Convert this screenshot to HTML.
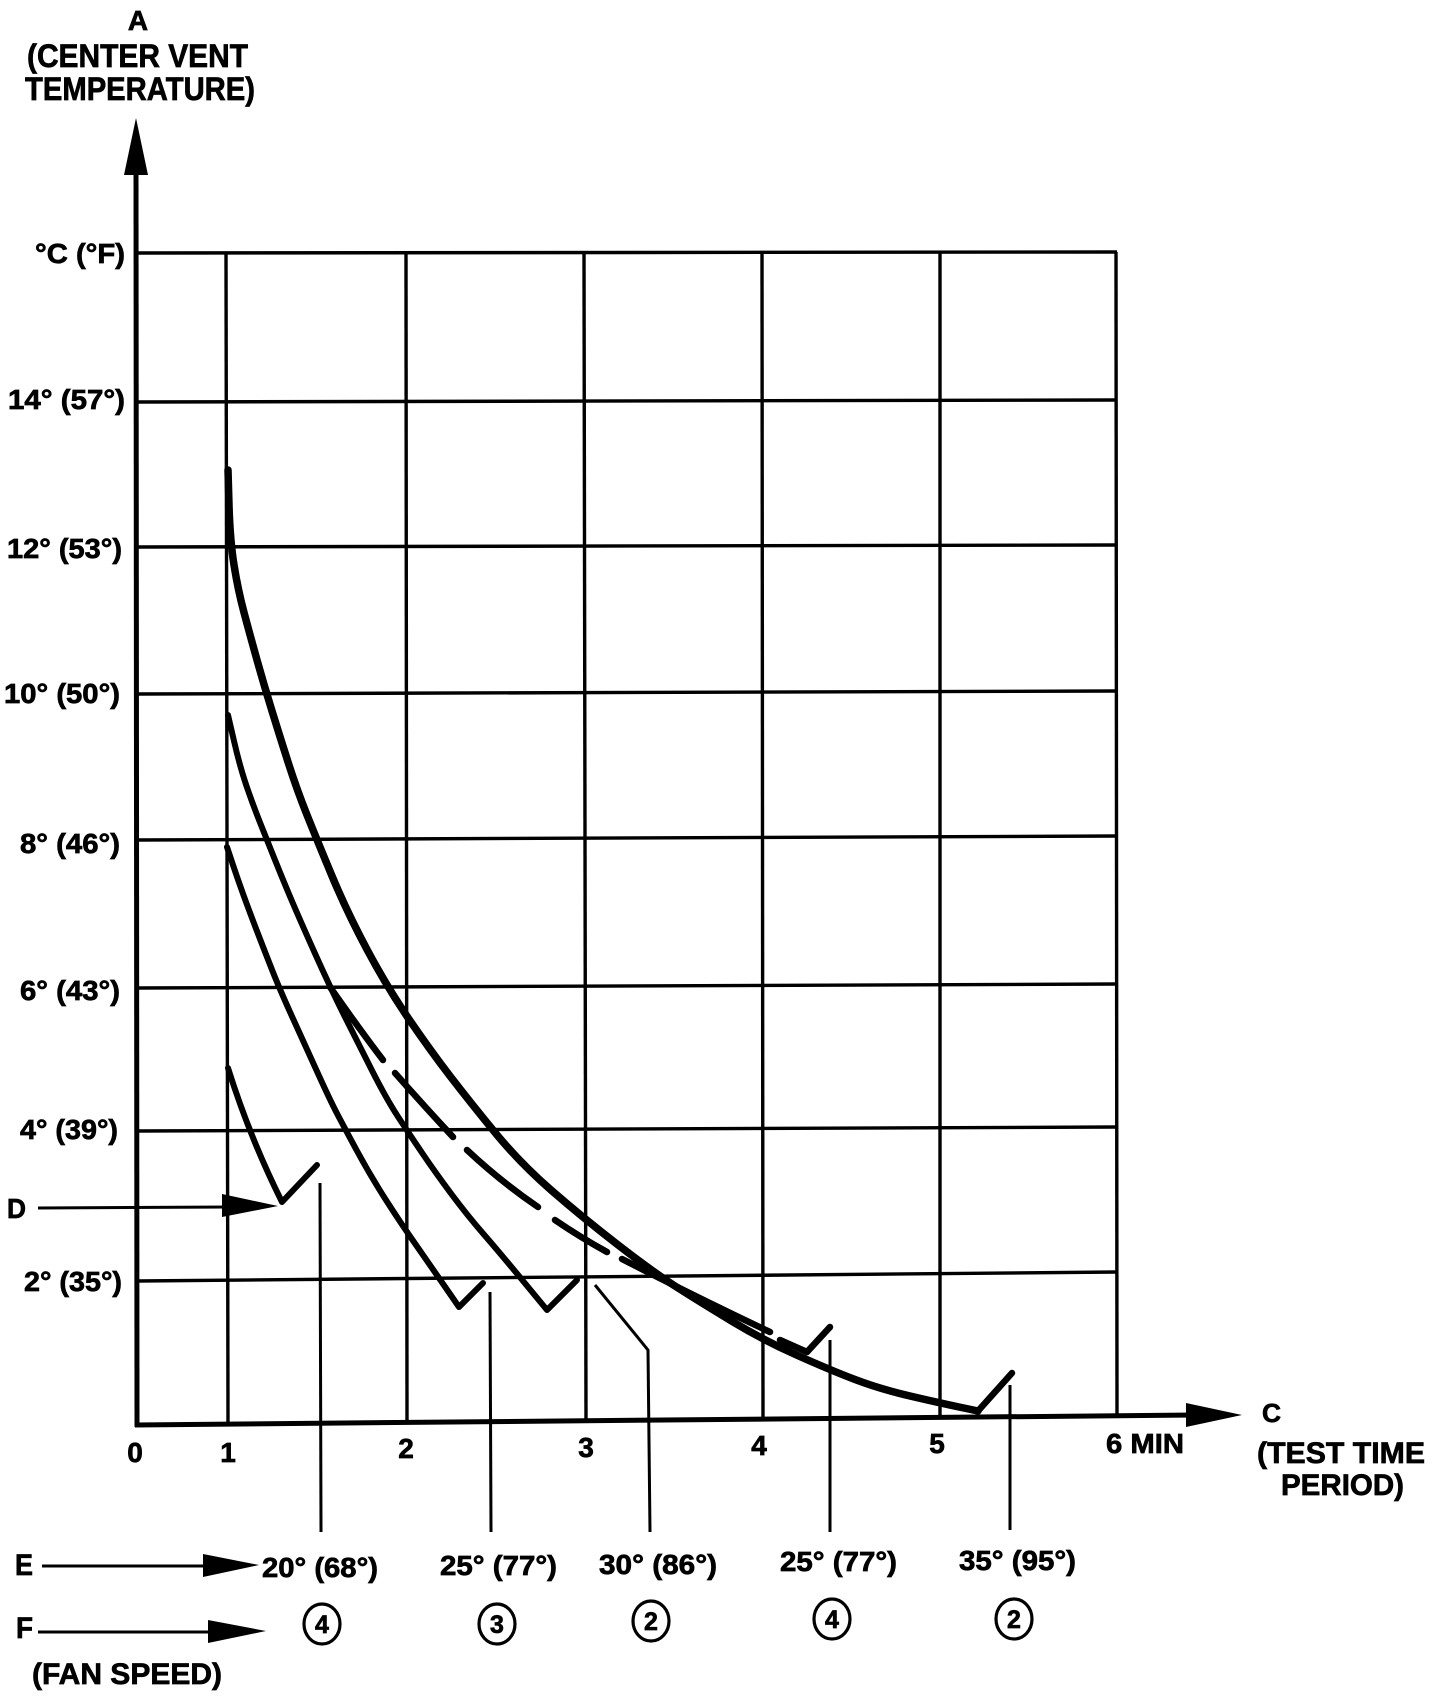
<!DOCTYPE html>
<html>
<head>
<meta charset="utf-8">
<style>
  html,body{margin:0;padding:0;background:#fff;}
  svg{display:block;}
  text{font-family:"Liberation Sans",Arial,sans-serif;font-weight:bold;fill:#000;stroke:#000;stroke-width:0.7;}
</style>
</head>
<body>
<svg width="1440" height="1706" viewBox="0 0 1440 1706" xmlns="http://www.w3.org/2000/svg">
  <rect x="0" y="0" width="1440" height="1706" fill="#fff"/>

  <!-- Title -->
  <text x="138" y="30" font-size="28" text-anchor="middle">A</text>
  <text x="27" y="67" font-size="32" textLength="221" lengthAdjust="spacingAndGlyphs">(CENTER VENT</text>
  <text x="25" y="100" font-size="32" textLength="230" lengthAdjust="spacingAndGlyphs">TEMPERATURE)</text>

  <!-- Grid -->
  <g stroke="#000" stroke-width="3.4" fill="none">
    <line x1="137" y1="253" x2="1117" y2="252"/>
    <line x1="137" y1="402" x2="1117" y2="400"/>
    <line x1="137" y1="547" x2="1117" y2="545"/>
    <line x1="137" y1="694" x2="1117" y2="691"/>
    <line x1="137" y1="840" x2="1117" y2="836"/>
    <line x1="137" y1="988" x2="1117" y2="984"/>
    <line x1="137" y1="1131" x2="1117" y2="1127"/>
    <line x1="137" y1="1281" x2="1117" y2="1272"/>
    <line x1="226" y1="253" x2="228" y2="1425"/>
    <line x1="406" y1="253" x2="407" y2="1424"/>
    <line x1="584" y1="253" x2="586" y2="1422"/>
    <line x1="762" y1="252" x2="763" y2="1420"/>
    <line x1="940" y1="252" x2="940" y2="1418"/>
    <line x1="1116" y1="252" x2="1117" y2="1416"/>
  </g>

  <!-- Axes -->
  <g stroke="#000" stroke-width="5" fill="none">
    <line x1="136" y1="165" x2="137" y2="1427"/>
    <line x1="135" y1="1425" x2="1195" y2="1415"/>
  </g>
  <polygon points="124,175 136,118 148,175" fill="#000"/>
  <polygon points="1186,1403 1242,1415 1186,1427" fill="#000"/>

  <!-- Y labels -->
  <g font-size="28">
    <text x="35" y="263" textLength="90" lengthAdjust="spacingAndGlyphs">°C (°F)</text>
    <text x="8" y="409" textLength="117" lengthAdjust="spacingAndGlyphs">14° (57°)</text>
    <text x="7" y="558" textLength="115" lengthAdjust="spacingAndGlyphs">12° (53°)</text>
    <text x="4" y="703" textLength="116" lengthAdjust="spacingAndGlyphs">10° (50°)</text>
    <text x="20" y="853" textLength="100" lengthAdjust="spacingAndGlyphs">8° (46°)</text>
    <text x="20" y="1000" textLength="100" lengthAdjust="spacingAndGlyphs">6° (43°)</text>
    <text x="20" y="1139" textLength="98" lengthAdjust="spacingAndGlyphs">4° (39°)</text>
    <text x="24" y="1291" textLength="98" lengthAdjust="spacingAndGlyphs">2° (35°)</text>
    <text x="7" y="1218" textLength="19" lengthAdjust="spacingAndGlyphs">D</text>
  </g>

  <!-- X labels -->
  <g font-size="28" text-anchor="middle">
    <text x="135" y="1462">0</text>
    <text x="228" y="1462">1</text>
    <text x="406" y="1458">2</text>
    <text x="586" y="1457">3</text>
    <text x="759" y="1455">4</text>
    <text x="937" y="1453">5</text>
  </g>
  <text x="1106" y="1453" font-size="28" textLength="78" lengthAdjust="spacingAndGlyphs">6 MIN</text>
  <text x="1262" y="1422" font-size="26" textLength="19" lengthAdjust="spacingAndGlyphs">C</text>
  <text x="1257" y="1463" font-size="30" textLength="168" lengthAdjust="spacingAndGlyphs">(TEST TIME</text>
  <text x="1281" y="1495" font-size="30" textLength="123" lengthAdjust="spacingAndGlyphs">PERIOD)</text>

  <!-- D arrow -->
  <line x1="38" y1="1208" x2="230" y2="1207" stroke="#000" stroke-width="3"/>
  <polygon points="222,1194 278,1206 222,1217" fill="#000"/>

  <!-- Curves -->
  <g stroke="#000" fill="none" stroke-linejoin="round" stroke-linecap="round">
    <!-- Curve 1 -->
    <path d="M228,470 L229,505 Q230,540 234,565 Q238,590 244,612.5 Q250,635 257,660 Q264,685 272,711 Q280,737 288.5,763.5 Q297,790 307,815 Q317,840 332,876 Q347,912 367,949.5 Q387,987 408.5,1018.5 Q430,1050 450,1076 Q470,1102 495,1132.5 Q520,1163 551,1190 Q582,1217 617.5,1244.5 Q653,1272 676.5,1287 Q700,1302 731.5,1321 Q763,1340 796.5,1355 Q830,1370 855,1379.5 Q880,1389 910,1396 Q940,1403 959,1407 L978,1411" stroke-width="7.5"/>
    <path d="M978,1411 L1012,1373" stroke-width="6.5"/>
    <!-- Curve 2 -->
    <path d="M228,715 L234,741 Q240,767 246.5,786 Q253,805 260,822.5 Q267,840 275,860 Q283,880 291.5,900 Q300,920 315,953.5 Q330,987 344,1015 Q358,1043 372.5,1071.5 Q387,1100 398.5,1117.5 Q410,1135 422.5,1153.5 Q435,1172 451,1193.5 Q467,1215 483.5,1234 Q500,1253 523.5,1281.5 L547,1310 L577,1280" stroke-width="6"/>
    <!-- Dashed branch -->
    <path d="M330,987 Q360,1030 383,1060" stroke-width="6.5"/>
    <path d="M395,1073 Q425,1107 453,1137" stroke-width="6.5"/>
    <path d="M467,1150 Q500,1181 538,1207" stroke-width="6.5"/>
    <path d="M555,1220 Q580,1237 607,1252" stroke-width="6.5"/>
    <path d="M622,1259 Q700,1299 770,1332" stroke-width="6.5"/>
    <path d="M780,1340 L807,1352 L830,1327" stroke-width="6.5"/>
    <!-- Curve 3 -->
    <path d="M227,847 L232.5,863.5 Q238,880 244,896.5 Q250,913 257.5,932.5 Q265,952 272.5,971 Q280,990 292.5,1017.5 Q305,1045 317.5,1072.5 Q330,1100 336.5,1112.5 Q343,1125 356.5,1150 Q370,1175 385,1198.5 Q400,1222 415,1243.5 Q430,1265 444.5,1286 L459,1307 L483,1283" stroke-width="6"/>
    <!-- Curve 4 -->
    <path d="M228,1068 Q250,1138 282,1202 L317,1165" stroke-width="6"/>
  </g>

  <!-- Leader lines -->
  <g stroke="#000" stroke-width="3" fill="none">
    <path d="M320,1183 L321,1532"/>
    <path d="M490,1292 L491,1532"/>
    <path d="M595,1285 L648,1350 L650,1532"/>
    <path d="M830,1340 L830,1532"/>
    <path d="M1010,1385 L1010,1530"/>
  </g>

  <!-- E row -->
  <text x="15" y="1575" font-size="30" textLength="18" lengthAdjust="spacingAndGlyphs">E</text>
  <line x1="42" y1="1566" x2="210" y2="1566" stroke="#000" stroke-width="3"/>
  <polygon points="203,1554 259,1565 203,1577" fill="#000"/>
  <g font-size="28">
    <text x="262" y="1577" textLength="116" lengthAdjust="spacingAndGlyphs">20° (68°)</text>
    <text x="440" y="1575" textLength="117" lengthAdjust="spacingAndGlyphs">25° (77°)</text>
    <text x="599" y="1574" textLength="118" lengthAdjust="spacingAndGlyphs">30° (86°)</text>
    <text x="780" y="1571" textLength="117" lengthAdjust="spacingAndGlyphs">25° (77°)</text>
    <text x="959" y="1570" textLength="117" lengthAdjust="spacingAndGlyphs">35° (95°)</text>
  </g>

  <!-- F row -->
  <text x="16" y="1638" font-size="30" textLength="17" lengthAdjust="spacingAndGlyphs">F</text>
  <line x1="38" y1="1632" x2="215" y2="1632" stroke="#000" stroke-width="3"/>
  <polygon points="208,1620 266,1631 208,1643" fill="#000"/>
  <g stroke="#000" stroke-width="3.2" fill="none">
    <ellipse cx="322" cy="1624" rx="18" ry="20"/>
    <ellipse cx="497" cy="1624" rx="18" ry="20"/>
    <ellipse cx="651" cy="1621" rx="18" ry="20"/>
    <ellipse cx="832" cy="1619" rx="18" ry="20"/>
    <ellipse cx="1014" cy="1619" rx="18" ry="20"/>
  </g>
  <g font-size="25" text-anchor="middle">
    <text x="322" y="1633">4</text>
    <text x="497" y="1633">3</text>
    <text x="651" y="1630">2</text>
    <text x="832" y="1628">4</text>
    <text x="1014" y="1628">2</text>
  </g>
  <text x="32" y="1684" font-size="30" textLength="190" lengthAdjust="spacingAndGlyphs">(FAN SPEED)</text>
</svg>
</body>
</html>
